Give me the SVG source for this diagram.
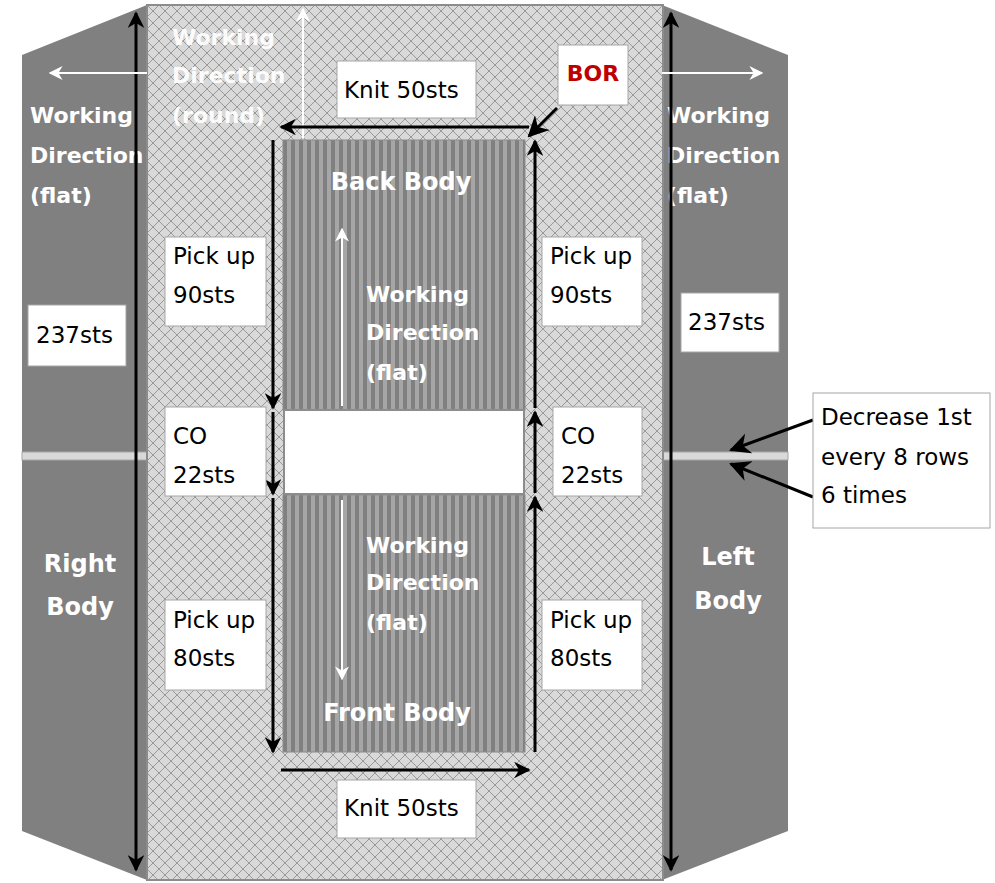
<svg xmlns="http://www.w3.org/2000/svg" width="995" height="883" viewBox="0 0 995 883">
<defs>
<pattern id="lattice" patternUnits="userSpaceOnUse" width="12" height="12" x="147" y="5">
<rect width="12" height="12" fill="#d9d9d9"/>
<path d="M0,0 L12,12 M12,0 L0,12" stroke="#999" stroke-width="1"/>
</pattern>
<pattern id="stripes" patternUnits="userSpaceOnUse" width="8" height="10" x="283" y="0">
<rect width="8" height="10" fill="#808080"/>
<rect x="4" width="4" height="10" fill="#a6a6a6"/>
</pattern>
<marker id="ab" viewBox="0 0 10 10" refX="9" refY="5" markerWidth="5.5" markerHeight="5.5" orient="auto-start-reverse" markerUnits="strokeWidth">
<path d="M0,0 L10,5 L0,10 L3,5 z" fill="#000"/>
</marker>
<marker id="ab2" viewBox="0 0 10 10" refX="9" refY="5" markerWidth="7" markerHeight="7" orient="auto-start-reverse" markerUnits="strokeWidth">
<path d="M0,0 L10,5 L0,10 L3,5 z" fill="#000"/>
</marker>
<marker id="aw" viewBox="0 0 10 10" refX="9" refY="5" markerWidth="7" markerHeight="7" orient="auto" markerUnits="strokeWidth">
<path d="M0,0 L10,5 L0,10 L3,5 z" fill="#fff"/>
</marker>
<style>
.box{fill:#fff;stroke:#a6a6a6;stroke-width:1}
.t{font-family:"DejaVu Sans",Verdana,sans-serif;font-size:23px;fill:#000}
.w{font-family:"DejaVu Sans",Verdana,sans-serif;font-size:22px;font-weight:bold;fill:#fff}
.wb{font-family:"DejaVu Sans",Verdana,sans-serif;font-size:24px;font-weight:bold;fill:#fff;text-anchor:middle}
.blk{stroke:#000;stroke-width:3;fill:none}
.wht{stroke:#fff;stroke-width:2;fill:none}
</style>
</defs>

<g id="right-body">
<polygon points="22,55 147,5 147,880 22,831" fill="#808080"/>
<rect x="22" y="452" width="125" height="8" fill="#d9d9d9" stroke="#a6a6a6" stroke-width="1"/>
<text class="wb" x="80" y="572">Right</text>
<text class="wb" x="80" y="615">Body</text>
<text class="w" x="30" y="123">Working</text>
<text class="w" x="30" y="163">Direction</text>
<text class="w" x="30" y="203">(flat)</text>
</g>

<g id="left-body">
<polygon points="662,5 788,55 788,831 662,880" fill="#808080"/>
<rect x="662" y="452" width="126" height="8" fill="#d9d9d9" stroke="#a6a6a6" stroke-width="1"/>
<text class="wb" x="728" y="565">Left</text>
<text class="wb" x="728" y="609">Body</text>
<text class="w" x="667" y="123">Working</text>
<text class="w" x="667" y="163">Direction</text>
<text class="w" x="667" y="203">(flat)</text>
</g>

<g id="center-panel">
<rect x="147" y="5" width="516" height="875" fill="url(#lattice)" stroke="#8c8c8c" stroke-width="2"/>
<text class="w" x="172" y="45" opacity="0.92">Working</text>
<text class="w" x="172" y="83" opacity="0.92">Direction</text>
<text class="w" x="172" y="123" opacity="0.92">(round)</text>
</g>

<g id="back-body">
<rect x="283" y="140" width="242" height="270" fill="url(#stripes)" stroke="#8c8c8c" stroke-width="1"/>
<text class="wb" x="401" y="190">Back Body</text>
<text class="w" x="366" y="302">Working</text>
<text class="w" x="366" y="340">Direction</text>
<text class="w" x="366" y="380">(flat)</text>
</g>

<g id="opening">
<rect x="284" y="410" width="240" height="84" fill="#fff" stroke="#8c8c8c" stroke-width="2"/>
</g>

<g id="front-body">
<rect x="283" y="495" width="242" height="257" fill="url(#stripes)" stroke="#8c8c8c" stroke-width="1"/>
<text class="w" x="366" y="553">Working</text>
<text class="w" x="366" y="590">Direction</text>
<text class="w" x="366" y="630">(flat)</text>
<text class="wb" x="397" y="721">Front Body</text>
</g>

<g id="connectors">
<line class="blk" x1="136" y1="870" x2="136" y2="13" marker-start="url(#ab)" marker-end="url(#ab)"/>
<line class="blk" x1="671" y1="870" x2="671" y2="13" marker-start="url(#ab)" marker-end="url(#ab)"/>
<line class="wht" x1="147" y1="73" x2="50" y2="73" marker-end="url(#aw)"/>
<line class="wht" x1="662" y1="73" x2="762" y2="73" marker-end="url(#aw)"/>
<line class="wht" x1="303" y1="138" x2="303" y2="9" marker-end="url(#aw)"/>
<line class="wht" x1="342" y1="406" x2="342" y2="229" marker-end="url(#aw)"/>
<line class="wht" x1="342" y1="500" x2="342" y2="679" marker-end="url(#aw)"/>
<line class="blk" x1="529" y1="127" x2="281" y2="127" marker-end="url(#ab)"/>
<line class="blk" x1="281" y1="770" x2="529" y2="770" marker-end="url(#ab)"/>
<line class="blk" x1="273" y1="140" x2="273" y2="408" marker-end="url(#ab)"/>
<line class="blk" x1="273" y1="412" x2="273" y2="494" marker-end="url(#ab)"/>
<line class="blk" x1="273" y1="498" x2="273" y2="752" marker-end="url(#ab)"/>
<line class="blk" x1="535" y1="752" x2="535" y2="497" marker-end="url(#ab)"/>
<line class="blk" x1="535" y1="493" x2="535" y2="412" marker-end="url(#ab)"/>
<line class="blk" x1="535" y1="408" x2="535" y2="141" marker-end="url(#ab)"/>
<line class="blk" x1="557" y1="108" x2="529" y2="136" stroke-width="2.5" marker-end="url(#ab2)"/>
<line class="blk" x1="813" y1="420" x2="731" y2="450" stroke-width="2.5" marker-end="url(#ab2)"/>
<line class="blk" x1="813" y1="497" x2="731" y2="464" stroke-width="2.5" marker-end="url(#ab2)"/>
</g>

<g id="knit-top">
<rect class="box" x="337" y="61" width="139" height="57"/>
<text class="t" x="344" y="98">Knit 50sts</text>
</g>
<g id="bor">
<rect class="box" x="558" y="45" width="70" height="60"/>
<text x="593" y="81" text-anchor="middle" font-family="DejaVu Sans,Verdana,sans-serif" font-size="22" font-weight="bold" fill="#c00000">BOR</text>
</g>
<g id="pickup90-left">
<rect class="box" x="165" y="237" width="101" height="89"/>
<text class="t" x="173" y="264">Pick up</text>
<text class="t" x="173" y="303">90sts</text>
</g>
<g id="pickup90-right">
<rect class="box" x="542" y="237" width="100" height="89"/>
<text class="t" x="550" y="264">Pick up</text>
<text class="t" x="550" y="303">90sts</text>
</g>
<g id="co-left">
<rect class="box" x="165" y="407" width="101" height="89"/>
<text class="t" x="173" y="444">CO</text>
<text class="t" x="173" y="483">22sts</text>
</g>
<g id="co-right">
<rect class="box" x="553" y="407" width="89" height="89"/>
<text class="t" x="561" y="444">CO</text>
<text class="t" x="561" y="483">22sts</text>
</g>
<g id="pickup80-left">
<rect class="box" x="165" y="600" width="101" height="90"/>
<text class="t" x="173" y="628">Pick up</text>
<text class="t" x="173" y="666">80sts</text>
</g>
<g id="pickup80-right">
<rect class="box" x="542" y="600" width="100" height="90"/>
<text class="t" x="550" y="628">Pick up</text>
<text class="t" x="550" y="666">80sts</text>
</g>
<g id="sts237-left">
<rect class="box" x="28" y="305" width="98" height="61"/>
<text class="t" x="36" y="343">237sts</text>
</g>
<g id="sts237-right">
<rect class="box" x="681" y="293" width="98" height="59"/>
<text class="t" x="688" y="330">237sts</text>
</g>
<g id="decrease">
<rect class="box" x="813" y="393" width="177" height="135"/>
<text class="t" x="821" y="425">Decrease 1st</text>
<text class="t" x="821" y="465">every 8 rows</text>
<text class="t" x="821" y="503">6 times</text>
</g>
<g id="knit-bottom">
<rect class="box" x="337" y="780" width="139" height="58"/>
<text class="t" x="344" y="816">Knit 50sts</text>
</g>
</svg>
